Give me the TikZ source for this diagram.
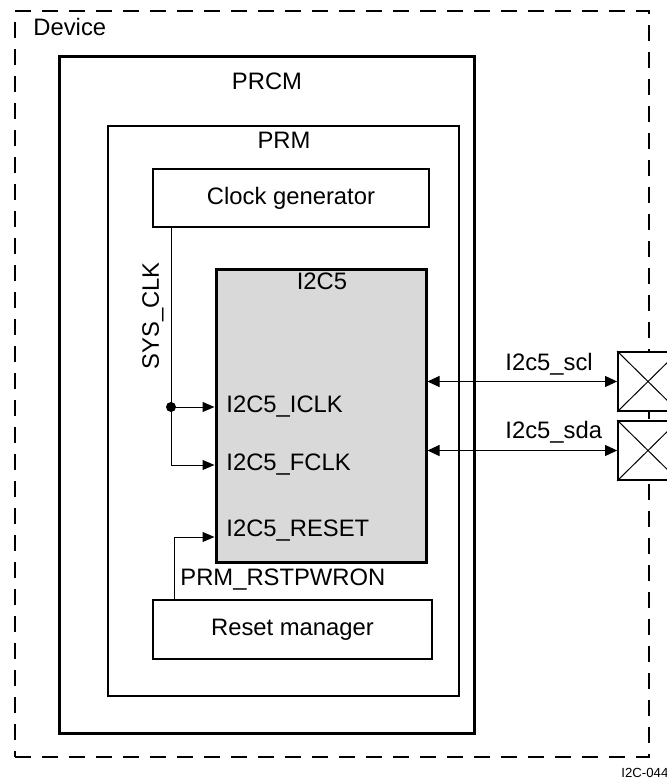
\documentclass[tikz,border=0pt]{standalone}
\usepackage{fontspec}
\setmainfont{Liberation Sans}
\usetikzlibrary{arrows.meta}
\definecolor{chipgray}{RGB}{217, 217, 217}

\begin{document}
\begin{tikzpicture}[x=0.5pt, y=-0.5pt, font=\fontsize{11.9}{14}\selectfont,
    box/.style={draw, line width=0.9pt, fill=white, inner sep=0pt},
    txt/.style={inner sep=0pt},
    wire/.style={line width=0.5pt},
    sig/.style={wire, -{Triangle[length=6pt, width=5pt]}},
    bus/.style={wire, {Triangle[length=6pt, width=5.5pt]}-{Triangle[length=6pt, width=5.5pt]}},
    pad/.style={draw, line width=0.9pt, fill=white, inner sep=0pt,
                minimum width=30pt, minimum height=29.5pt}]
  \useasboundingbox (0,0) rectangle (667,781);
  \clip (0,0) rectangle (667,781);
  % outer blocks
  \node[draw, line width=0.9pt, dash pattern=on 8pt off 5.5pt, inner sep=0pt,
        minimum width=317pt, minimum height=373pt] (device) at (332,384) {};
  \node[txt, anchor=west] (devname) at (33,27) {Device};
  \node[draw, line width=1.5pt, inner sep=0pt,
        minimum width=207.5pt, minimum height=338pt] (prcm) at (266.5,395) {};
  \node[txt] (prcmname) at (267,81) {PRCM};
  \node[draw, line width=1pt, inner sep=0pt,
        minimum width=175.5pt, minimum height=285pt] (prm) at (283.5,411) {};
  \node[txt] (prmname) at (284,140) {PRM};
  % inner blocks
  \node[box, minimum width=138pt, minimum height=29pt] (clkgen) at (291,198) {Clock generator};
  \node[box, minimum width=139.5pt, minimum height=29.5pt] (rstmgr) at (292.5,629.5) {Reset manager};
  \node[draw, line width=1.5pt, fill=chipgray, inner sep=0pt,
        minimum width=105pt, minimum height=146.5pt] (i2c) at (321,415.5) {};
  \node[txt] (i2cname) at (322,281) {I2C5};
  \node[txt, anchor=west] (iclk) at (226,407) {I2C5\_ICLK};
  \node[txt, anchor=west] (fclk) at (226,465) {I2C5\_FCLK};
  \node[txt, anchor=west] (rst) at (226,531) {I2C5\_RESET};
  % clocks
  \coordinate (tap) at (171,407);
  \node[txt, rotate=90] (sysclk) at (153,316) {SYS\_CLK};
  \draw[wire] (clkgen.south -| tap) -- (tap);
  \fill (tap) circle (2.5pt);
  \draw[sig] (tap) -- (i2c.west |- iclk);
  \draw[sig] (tap) |- (i2c.west |- fclk);
  % reset
  \coordinate (rstout) at (174,600);
  \node[txt, anchor=west] (rstname) at (180,580) {PRM\_RSTPWRON};
  \draw[sig] (rstout) |- ([yshift=-3pt]rst.west -| i2c.west);
  % pads
  \node[pad] (padscl) at (648,381.5) {};
  \node[pad] (padsda) at (648,450.5) {};
  \foreach \p in {padscl, padsda}
    \draw[wire] (\p.north west) -- (\p.south east) (\p.south west) -- (\p.north east);
  \draw[bus] (i2c.east |- padscl.west) -- (padscl.west);
  \draw[bus] (i2c.east |- padsda.west) -- (padsda.west);
  \node[txt, anchor=west] (sclname) at (505,364) {I2c5\_scl};
  \node[txt, anchor=west] (sdaname) at (505,432) {I2c5\_sda};
  \node[txt, anchor=west, font=\fontsize{6.6}{8}\selectfont] (figid) at (621,773) {I2C-044};
\end{tikzpicture}
\end{document}
